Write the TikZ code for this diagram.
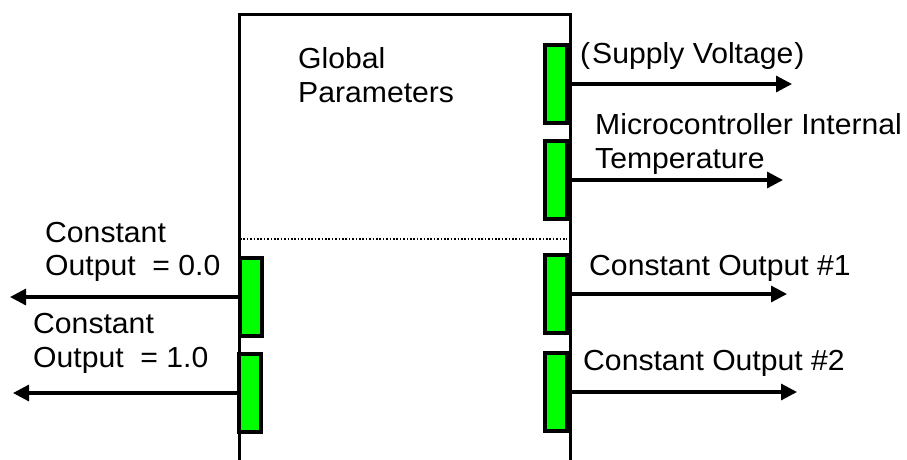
\documentclass[tikz,border=0pt]{standalone}
\usepackage{fontspec}
\setmainfont{Liberation Sans}[FakeStretch=1.04]
\usetikzlibrary{arrows.meta}
\definecolor{portgreen}{RGB}{0,255,0}
\begin{document}
\begin{tikzpicture}[x=1pt,y=-1pt,
  lbl/.style={inner sep=0pt,anchor=base west,font=\fontsize{29}{34}\selectfont},
  portbox/.style={draw=black,fill=portgreen,line width=3.2pt,minimum width=22pt,minimum height=78pt,inner sep=0pt},
  arr/.style={line width=3.2pt,-{Triangle[length=16pt,width=16pt]}}]
\useasboundingbox[fill=white] (0,0) rectangle (907,459);
\clip (0,0) rectangle (907,459);
% main block (open at the bottom: it runs past the picture edge)
\node[draw=black,line width=3.2pt,minimum width=331pt,minimum height=480pt,inner sep=0pt,anchor=north west] (block) at (238,13) {};
% dotted separator
\coordinate (dl) at (240,239);
\coordinate (dr) at (567,239);
\draw[line width=1.6pt,dash pattern=on 1.6pt off 1.8pt] (dl) -- (dr);
% right ports
\node[portbox] (r1) at (556,84) {};
\node[portbox] (r2) at (556,180) {};
\node[portbox] (r3) at (556,294) {};
\node[portbox] (r4) at (556,392) {};
% left ports
\node[portbox] (l1) at (251,297) {};
\node[portbox] (l2) at (250,393) {};
% arrow tips
\coordinate (t1) at (792,84);
\coordinate (t2) at (783,180);
\coordinate (t3) at (787,294);
\coordinate (t4) at (797,392);
\coordinate (tl1) at (10,297);
\coordinate (tl2) at (13,393);
\draw[arr] (r1.east) -- (r1.east -| t1);
\draw[arr] ([xshift=-2pt]r2.east) -- (r2.east -| t2);
\draw[arr] (r3.east) -- (r3.east -| t3);
\draw[arr] (r4.east) -- (r4.east -| t4);
\draw[arr] (l1.west) -- (l1.west -| tl1);
\draw[arr] (l2.west) -- (l2.west -| tl2);
% texts
\node[lbl] (g1) at (298,68) {Global};
\node[lbl] (g2) at (298,102) {Parameters};
\node[lbl] (sv) at (580,63) {(\kern2pt Supply Voltage\kern1pt)};
\node[lbl] (mc1) at (595,134) {Microcontroller Internal};
\node[lbl] (mc2) at (595,168) {Temperature};
\node[lbl] (c1) at (589,275) {Constant Output \#1};
\node[lbl] (c2) at (583,370) {Constant Output \#2};
\node[lbl] (a1) at (45,242) {Constant};
\node[lbl] (a2) at (45,275) {Output\ \ = 0.0};
\node[lbl] (b1) at (33,333) {Constant};
\node[lbl] (b2) at (33,367) {Output\ \ = 1.0};
\end{tikzpicture}
\end{document}
